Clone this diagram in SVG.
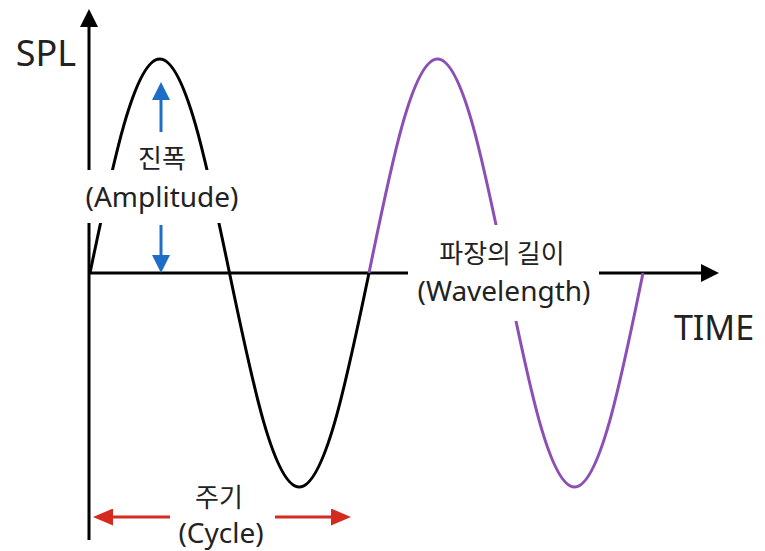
<svg xmlns="http://www.w3.org/2000/svg" width="765" height="551" viewBox="0 0 765 551">
<style>
.t{font-family:"Noto Sans","Noto Sans CJK KR",sans-serif;fill:#222;text-anchor:middle}
.k{font-family:"Noto Sans CJK KR","Noto Sans",sans-serif;fill:#222;text-anchor:middle;font-size:26px}
.l{font-size:28px}
.ax{stroke:#000;stroke-width:3;fill:none}
.w{stroke-width:3;fill:none}
.mask{fill:#fff}
</style>
<defs>
<marker id="hk" markerUnits="userSpaceOnUse" markerWidth="18" markerHeight="18" refX="0" refY="9" orient="auto" viewBox="0 0 18 18"><path d="M0,0 L18,9 L0,18 z" fill="#000"/></marker>
<marker id="hb" markerUnits="userSpaceOnUse" markerWidth="18" markerHeight="18" refX="0" refY="9" orient="auto" viewBox="0 0 18 18"><path d="M0,0 L18,9 L0,18 z" fill="#1e6ec8"/></marker>
<marker id="hr" markerUnits="userSpaceOnUse" markerWidth="20" markerHeight="17" refX="0" refY="8.5" orient="auto" viewBox="0 0 20 17"><path d="M0,0 L20,8.5 L0,17 z" fill="#d42a1f"/></marker>
</defs>
<rect width="765" height="551" fill="#fff"/>
<g id="axes">
<line class="ax" x1="89" y1="540" x2="89" y2="27" marker-end="url(#hk)"/>
<line class="ax" x1="88" y1="273" x2="701" y2="273" marker-end="url(#hk)"/>
</g>
<g id="waves">
<path id="wave-black" class="w" stroke="#000" d="M90,273 C112.75,163.4 134.5,59 159.75,59 C185,59 206.75,163.4 229.5,273 C252.25,382.6 274,487 299.25,487 C324.45,487 346.25,382.6 369,273"/>
<path id="wave-purple" class="w" stroke="#8c4fb5" d="M369,273 C391.34,163.4 412.71,59 437.5,59 C462.29,59 483.66,163.4 506,273 C528.34,382.6 549.71,487 574.5,487 C599.29,487 620.66,382.6 643,273"/>
</g>
<g id="masks">
<rect class="mask" x="82" y="170" width="145" height="53"/>
<rect class="mask" x="408" y="225" width="191" height="96"/>
</g>
<g id="connectors">
<line x1="161" y1="132" x2="161" y2="100" stroke="#1e6ec8" stroke-width="3" marker-end="url(#hb)"/>
<line x1="161" y1="225" x2="161" y2="255" stroke="#1e6ec8" stroke-width="3" marker-end="url(#hb)"/>
<line x1="170" y1="517" x2="113" y2="517" stroke="#d42a1f" stroke-width="3" marker-end="url(#hr)"/>
<line x1="275" y1="517" x2="331" y2="517" stroke="#d42a1f" stroke-width="3" marker-end="url(#hr)"/>
</g>
<g id="label-spl"><text class="t" x="46" y="66" font-size="36">SPL</text></g>
<g id="label-time"><text class="t" x="714" y="340" font-size="34">TIME</text></g>
<g id="label-amplitude">
<text class="k" x="162" y="168">진폭</text>
<text class="t l" x="162" y="207">(Amplitude)</text>
</g>
<g id="label-wavelength">
<text class="k" x="502" y="263">파장의 길이</text>
<text class="t l" x="504" y="301">(Wavelength)</text>
</g>
<g id="label-cycle">
<text class="k" x="219" y="507">주기</text>
<text class="t l" x="221" y="543">(Cycle)</text>
</g>
</svg>
